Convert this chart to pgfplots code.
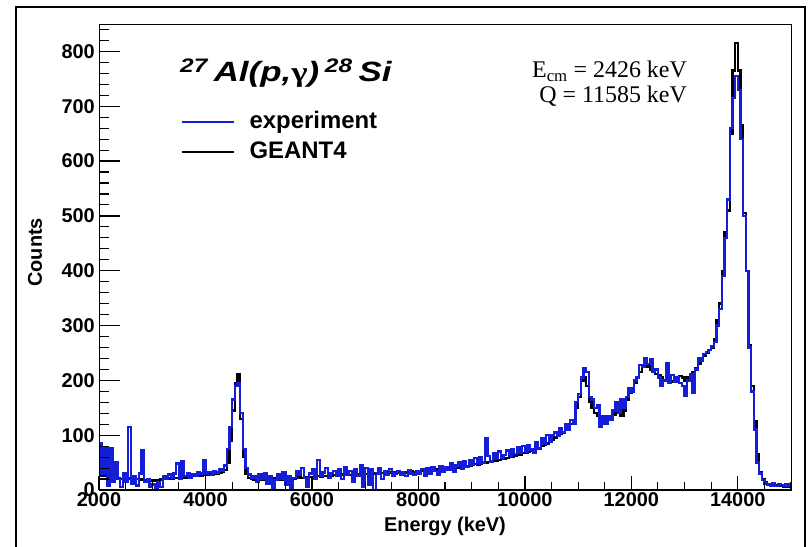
\documentclass[border=0pt]{standalone}
\usepackage{fontspec}
\setmainfont{Liberation Sans}
\newfontfamily\timesfont{Liberation Serif}
\usepackage{graphicx}
\usepackage{pgfplots}
\pgfplotsset{compat=1.18}
\definecolor{expblue}{RGB}{20,30,215}
\begin{document}
\begin{tikzpicture}
\useasboundingbox (0,0) rectangle (812bp,547bp);
\begin{axis}[
  scale only axis, width=692bp, height=466bp,
  at={(99bp,57bp)}, anchor=south west,
  xmin=2000, xmax=15000, ymin=0, ymax=850,
  axis on top,
  xtick={2000,4000,...,14000},
  minor xtick={2000,2500,...,15000},
  ytick={0,100,...,800},
  minor ytick={0,20,...,840},
  scaled x ticks=false, scaled y ticks=false,
  tick pos=left, tick align=inside,
  major tick length=14bp, minor tick length=8bp,
  every major tick/.append style={draw=black, line width=1.3bp},
  every minor tick/.append style={draw=black, line width=1.1bp},
  /pgf/number format/assume math mode=true,
  /pgf/number format/1000 sep={},
  tick label style={font=\fontsize{20}{24}\selectfont\bfseries},
  yticklabel style={inner sep=0pt, xshift=-4bp},
  xticklabel style={inner sep=0pt, yshift=-2bp},
  xlabel={Energy (keV)}, ylabel={Counts},
  label style={font=\fontsize{20}{24}\selectfont\bfseries},
  xlabel style={at={(axis description cs:0.5,-0.079)}, anchor=center},
  ylabel style={at={(axis description cs:-0.0925,0.51)}, anchor=center},
  legend image code/.code={\draw[#1, line width=1.5bp] (0bp,0bp) -- (52bp,0bp);},
  reverse legend,
  legend style={draw=none, fill=none, at={(0.114,0.7575)}, anchor=west,
    font=\fontsize{24}{28}\selectfont\bfseries, cells={anchor=west},
    nodes={inner sep=0pt, text height=17bp, text depth=5bp},
    row sep=8bp,
    /tikz/every odd column/.append style={column sep=15bp}},
]
% GEANT4 (black)
\addplot[const plot mark left, black, line width=2.4bp] coordinates {
(2000,28) (2050,25) (2100,27) (2150,22) (2200,24) (2250,20) (2300,23) (2350,21) (2400,20) (2450,22)
(2500,19) (2550,21) (2600,20) (2650,18) (2700,20) (2750,19) (2800,18) (2850,17) (2900,18) (2950,17)
(3000,17) (3050,18) (3100,18) (3150,19) (3200,20) (3250,20) (3300,21) (3350,21) (3400,22) (3450,22)
(3500,22) (3550,23) (3600,23) (3650,24) (3700,24) (3750,25) (3800,25) (3850,26) (3900,26) (3950,27)
(4000,27) (4050,28) (4100,28) (4150,29) (4200,30) (4250,31) (4300,33) (4350,36)
(4400,50) (4450,90) (4500,145) (4550,195) (4600,211) (4650,130) (4700,60) (4750,30) (4800,22)
(4850,20) (4900,19) (4950,20) (5000,18) (5050,19) (5100,20) (5150,18) (5200,19) (5250,20) (5300,21)
(5350,20) (5400,19) (5450,21) (5500,20) (5550,21) (5600,22) (5650,21) (5700,22) (5750,23) (5800,22)
(5850,23) (5900,22) (5950,24) (6000,23) (6050,24) (6100,25) (6150,24) (6200,25) (6250,26) (6300,25)
(6350,26) (6400,27) (6450,26) (6500,27) (6550,28) (6600,27) (6650,28) (6700,27) (6750,28) (6800,29)
(6850,28) (6900,29) (6950,28) (7000,29) (7050,30) (7100,29) (7150,30) (7200,29) (7250,30) (7300,31)
(7350,30) (7400,31) (7450,32) (7500,31) (7550,32) (7600,31) (7650,32) (7700,33) (7750,32) (7800,33)
(7850,34) (7900,33) (7950,34)
(8000,34) (8050,35) (8100,34) (8150,36) (8200,35) (8250,37) (8300,36) (8350,38) (8400,37) (8450,39)
(8500,38) (8550,40) (8600,39) (8650,41) (8700,42) (8750,41) (8800,43) (8850,44) (8900,43) (8950,45)
(9000,46) (9050,47) (9100,46) (9150,48) (9200,49) (9250,50) (9300,51) (9350,52) (9400,53) (9450,54)
(9500,55) (9550,56) (9600,57) (9650,58) (9700,60) (9750,61) (9800,62) (9850,64) (9900,65) (9950,67)
(10000,68) (10050,70) (10100,71) (10150,73) (10200,75) (10250,77) (10300,80) (10350,82) (10400,85) (10450,88)
(10500,92) (10550,96) (10600,99) (10650,103) (10700,106) (10750,110) (10800,114) (10850,120) (10900,128) (10950,150)
(11000,170) (11050,200) (11100,205) (11150,190) (11200,160) (11250,150) (11300,140) (11350,135) (11400,128) (11450,130)
(11500,130) (11550,132) (11600,135) (11650,138) (11700,142) (11750,140) (11800,135) (11850,145) (11900,165) (11950,178)
(12000,185) (12050,195) (12100,205) (12150,215) (12200,225) (12250,228) (12300,225) (12350,220) (12400,218) (12450,212)
(12500,210) (12550,205) (12600,200) (12650,205) (12700,200) (12750,198) (12800,202) (12850,205) (12900,208) (12950,205)
(13000,200) (13050,205) (13100,210) (13150,215) (13200,222) (13250,230) (13300,238) (13350,245) (13400,250) (13450,255)
(13500,260) (13550,275) (13600,310) (13650,340) (13700,400) (13750,470) (13800,510) (13850,650) (13900,765) (13950,815)
(14000,765) (14050,665) (14100,505) (14150,400) (14200,265) (14250,190) (14300,125) (14350,65) (14400,32) (14450,20)
(14500,14) (14550,11) (14600,9) (14650,8) (14700,8) (14750,7) (14800,7) (14850,6) (14900,6) (14950,6) (15000,6)
};
\addlegendentry{GEANT4}
% experiment (blue)
\addplot[const plot mark left, expblue, line width=2.4bp] coordinates {
(2000,85) (2050,30) (2100,78) (2150,8) (2200,76) (2250,15) (2300,50) (2350,20) (2400,5) (2450,30)
(2500,15) (2550,115) (2600,12) (2650,25) (2700,8) (2750,30) (2800,72) (2850,15) (2900,20) (2950,5)
(3000,10) (3050,0) (3100,15) (3150,5) (3200,25) (3250,20) (3300,28) (3350,22) (3400,30) (3450,48)
(3500,20) (3550,52) (3600,25) (3650,30) (3700,22) (3750,28) (3800,26) (3850,32) (3900,30) (3950,55)
(4000,30) (4050,33) (4100,28) (4150,35) (4200,32) (4250,38) (4300,35) (4350,45)
(4400,75) (4450,115) (4500,165) (4550,190) (4600,195) (4650,140) (4700,75) (4750,40) (4800,28)
(4850,22) (4900,25) (4950,15) (5000,28) (5050,20) (5100,30) (5150,12) (5200,25) (5250,0) (5300,18)
(5350,28) (5400,20) (5450,32) (5500,10) (5550,25) (5600,0) (5650,22) (5700,35) (5750,28) (5800,40)
(5850,22) (5900,5) (5950,30) (6000,38) (6050,20) (6100,55) (6150,25) (6200,32) (6250,40) (6300,22)
(6350,30) (6400,35) (6450,25) (6500,38) (6550,20) (6600,42) (6650,28) (6700,35) (6750,15) (6800,38)
(6850,25) (6900,45) (6950,5) (7000,40) (7050,10) (7100,38) (7150,0) (7200,30) (7250,40) (7300,20)
(7350,35) (7400,28) (7450,38) (7500,25) (7550,30) (7600,35) (7650,28) (7700,32) (7750,25) (7800,36)
(7850,30) (7900,28) (7950,34)
(8000,30) (8050,38) (8100,25) (8150,40) (8200,30) (8250,42) (8300,35) (8350,28) (8400,44) (8450,34)
(8500,42) (8550,36) (8600,48) (8650,33) (8700,45) (8750,50) (8800,38) (8850,52) (8900,42) (8950,55)
(9000,46) (9050,58) (9100,48) (9150,60) (9200,50) (9250,95) (9300,62) (9350,52) (9400,68) (9450,56)
(9500,70) (9550,58) (9600,64) (9650,72) (9700,62) (9750,75) (9800,66) (9850,78) (9900,68) (9950,80)
(10000,70) (10050,82) (10100,74) (10150,68) (10200,88) (10250,76) (10300,95) (10350,84) (10400,100) (10450,88)
(10500,100) (10550,105) (10600,98) (10650,112) (10700,105) (10750,120) (10800,110) (10850,128) (10900,120) (10950,160)
(11000,175) (11050,205) (11100,222) (11150,215) (11200,170) (11250,165) (11300,150) (11350,155) (11400,115) (11450,135)
(11500,120) (11550,135) (11600,128) (11650,145) (11700,160) (11750,140) (11800,165) (11850,150) (11900,170) (11950,185)
(12000,180) (12050,200) (12100,205) (12150,228) (12200,225) (12250,240) (12300,230) (12350,238) (12400,215) (12450,220)
(12500,205) (12550,190) (12600,200) (12650,232) (12700,195) (12750,210) (12800,198) (12850,205) (12900,195) (12950,190)
(13000,172) (13050,200) (13100,212) (13150,178) (13200,220) (13250,240) (13300,235) (13350,248) (13400,252) (13450,255)
(13500,262) (13550,270) (13600,300) (13650,330) (13700,390) (13750,460) (13800,530) (13850,660) (13900,715) (13950,755)
(14000,730) (14050,640) (14100,500) (14150,400) (14200,260) (14250,180) (14300,110) (14350,50) (14400,30) (14450,18)
(14500,12) (14550,10) (14600,8) (14650,12) (14700,7) (14750,10) (14800,9) (14850,8) (14900,10) (14950,7) (15000,7)
};
\addlegendentry{experiment}
% tick marks on top of the data (lengths as in the reference)
\pgfplotsinvokeforeach{0,100,...,800}{\draw[black, line width=1.3bp] (axis cs:2000,#1) -- ([xshift=21bp]axis cs:2000,#1);}
\pgfplotsinvokeforeach{20,40,...,840}{\draw[black, line width=1.1bp] (axis cs:2000,#1) -- ([xshift=10bp]axis cs:2000,#1);}
\pgfplotsinvokeforeach{2000,4000,...,14000}{\draw[black, line width=1.3bp] (axis cs:#1,0) -- ([yshift=14bp]axis cs:#1,0);}
\pgfplotsinvokeforeach{2500,3000,...,15000}{\draw[black, line width=1.1bp] (axis cs:#1,0) -- ([yshift=8bp]axis cs:#1,0);}
\draw[black, line width=2bp] (rel axis cs:0,0) -- (rel axis cs:1,0);
\draw[black, line width=2bp] (rel axis cs:0,0) -- (rel axis cs:0,1);
\draw[gray!70, line width=1bp] (rel axis cs:0,1) -- (rel axis cs:1,1) -- (rel axis cs:1,0);
\end{axis}
% outer frame
\draw[black, line width=2bp] (16bp,-2bp) -- (16bp,540bp) -- (805bp,540bp) -- (805bp,-2bp);
% title
\node[anchor=base west, inner sep=0pt] at (180bp,465bp)
  {\scalebox{1.25}[1]{\fontsize{28}{30}\selectfont\bfseries\itshape\textsuperscript{27}\,Al(p,{\timesfont\upshape γ})\,\textsuperscript{28}\,Si}};
% annotation
\node[anchor=base east, inner sep=0pt] at (687bp,469bp)
  {\fontsize{24}{28}\selectfont\timesfont E\textsubscript{cm} = 2426 keV};
\node[anchor=base east, inner sep=0pt] at (687bp,444bp)
  {\fontsize{24}{28}\selectfont\timesfont Q = 11585 keV};
\end{tikzpicture}
\end{document}
